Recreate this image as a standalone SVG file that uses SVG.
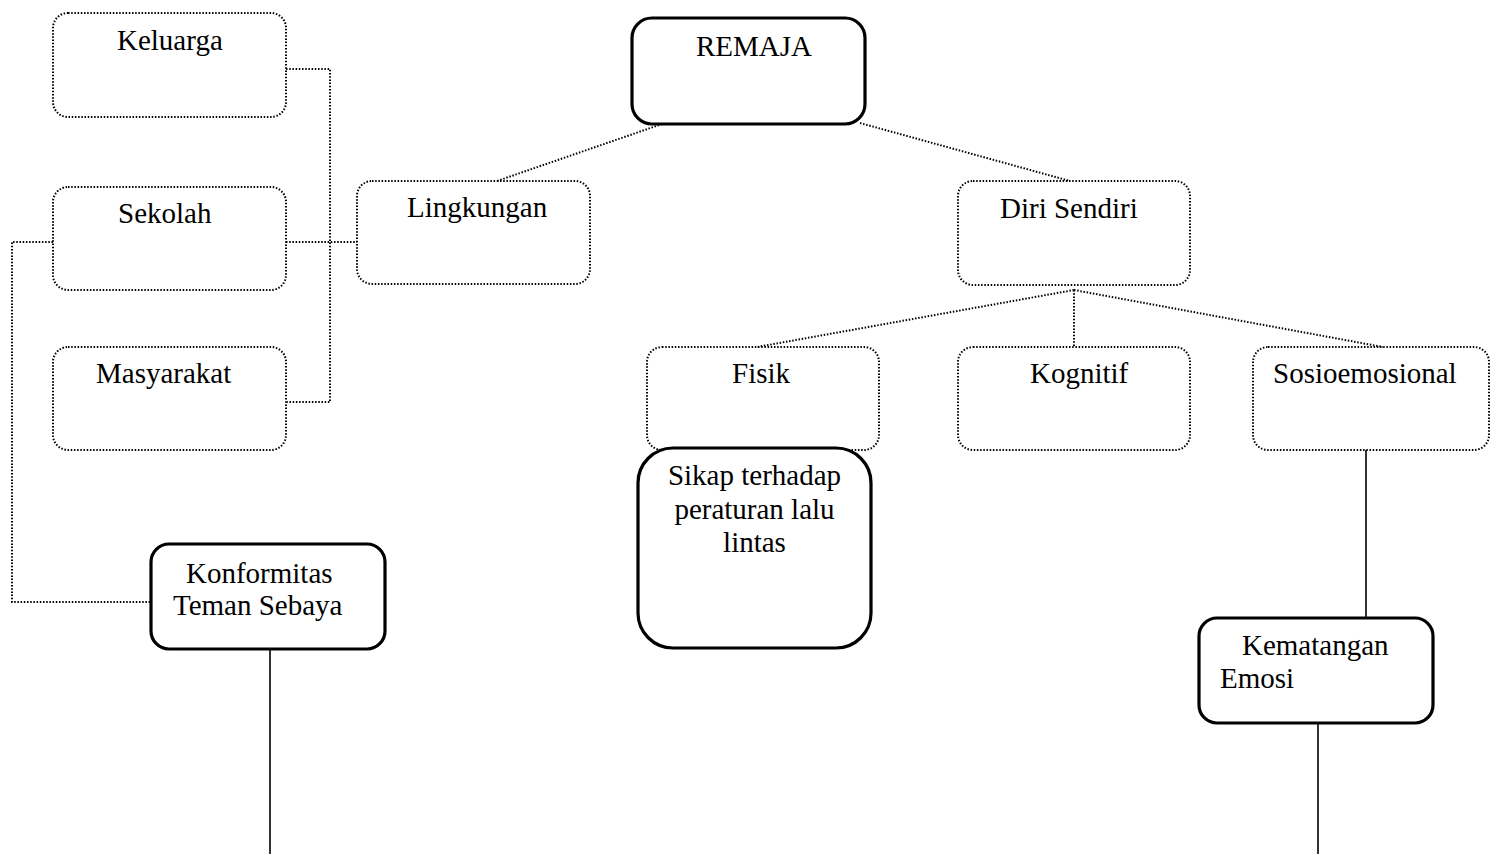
<svg xmlns="http://www.w3.org/2000/svg" width="1491" height="854" viewBox="0 0 1491 854">
<style>
  .bg { fill: #ffffff; }
  .dot { fill: none; stroke: #000; stroke-width: 2; stroke-dasharray: 1.5 1.7; }
  .solidbox { fill: #fff; stroke: #000; stroke-width: 3.2; }
  .dotbox { fill: none; stroke: #000; stroke-width: 2; stroke-dasharray: 1.5 1.7; }
  .line { fill: none; stroke: #000; stroke-width: 1.6; }
  text { font-family: "Liberation Serif", "Times New Roman", serif; font-size: 29px; fill: #000; }
</style>
<rect class="bg" x="0" y="0" width="1491" height="854"/>

<g id="connectors">
  <polyline class="dot" points="286,69 330,69 330,402 287,402"/>
  <line class="dot" x1="286" y1="242" x2="357" y2="242"/>
  <polyline class="dot" points="53,242 12,242 12,602 151,602"/>
  <line class="dot" x1="662" y1="124" x2="497" y2="181"/>
  <line class="dot" x1="860" y1="123" x2="1070" y2="181"/>
  <line class="dot" x1="1074" y1="290" x2="757" y2="347"/>
  <line class="dot" x1="1074" y1="290" x2="1074" y2="347"/>
  <line class="dot" x1="1074" y1="290" x2="1383" y2="347"/>
  <line class="line" x1="1366" y1="450" x2="1366" y2="618"/>
  <line class="line" x1="1318" y1="723" x2="1318" y2="854"/>
  <line class="line" x1="270" y1="649" x2="270" y2="854"/>
</g>

<g id="node-keluarga">
  <rect class="dotbox" x="53" y="13" width="233" height="104" rx="15"/>
  <text x="117" y="50">Keluarga</text>
</g>
<g id="node-sekolah">
  <rect class="dotbox" x="53" y="187" width="233" height="103" rx="15"/>
  <text x="118" y="223">Sekolah</text>
</g>
<g id="node-masyarakat">
  <rect class="dotbox" x="53" y="347" width="233" height="103" rx="15"/>
  <text x="96" y="383">Masyarakat</text>
</g>
<g id="node-konformitas">
  <rect class="solidbox" x="151" y="544" width="234" height="105" rx="18"/>
  <text x="186" y="583">Konformitas</text>
  <text x="173" y="615">Teman Sebaya</text>
</g>
<g id="node-remaja">
  <rect class="solidbox" x="632" y="18" width="233" height="106" rx="20"/>
  <text x="696" y="56">REMAJA</text>
</g>
<g id="node-lingkungan">
  <rect class="dotbox" x="357" y="181" width="233" height="103" rx="15"/>
  <text x="407" y="217">Lingkungan</text>
</g>
<g id="node-diri-sendiri">
  <rect class="dotbox" x="958" y="181" width="232" height="104" rx="15"/>
  <text x="1000" y="218">Diri Sendiri</text>
</g>
<g id="node-fisik">
  <rect class="dotbox" x="647" y="347" width="232" height="103" rx="15"/>
  <text x="732" y="383">Fisik</text>
</g>
<g id="node-kognitif">
  <rect class="dotbox" x="958" y="347" width="232" height="103" rx="15"/>
  <text x="1030" y="383">Kognitif</text>
</g>
<g id="node-sosioemosional">
  <rect class="dotbox" x="1253" y="347" width="236" height="103" rx="15"/>
  <text x="1273" y="383">Sosioemosional</text>
</g>
<g id="node-sikap">
  <rect class="solidbox" x="638" y="448" width="233" height="200" rx="35"/>
  <text x="754.5" y="485" text-anchor="middle">Sikap terhadap</text>
  <text x="754.5" y="519" text-anchor="middle">peraturan lalu</text>
  <text x="754.5" y="552" text-anchor="middle">lintas</text>
</g>
<g id="node-kematangan">
  <rect class="solidbox" x="1199" y="618" width="234" height="105" rx="18"/>
  <text x="1242" y="655">Kematangan</text>
  <text x="1220" y="688">Emosi</text>
</g>
</svg>
